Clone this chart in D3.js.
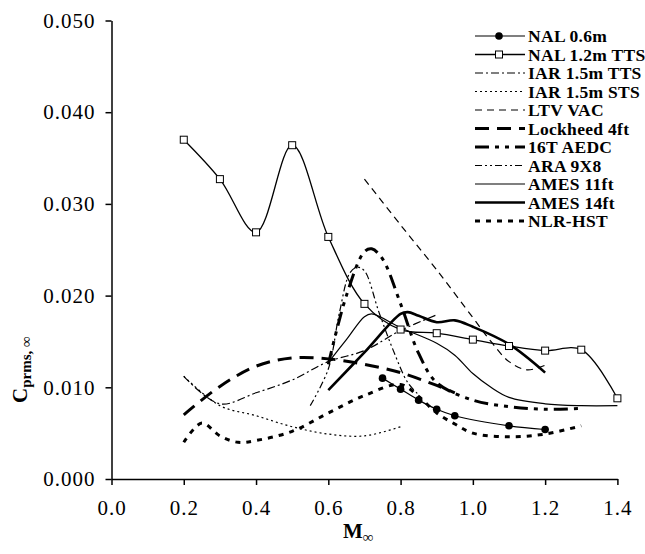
<!DOCTYPE html>
<html>
<head>
<meta charset="utf-8">
<style>
  body { margin: 0; background: #fff; }
  text { font-family: "Liberation Serif", "Times New Roman", serif; }
</style>
</head>
<body>
<script src="https://cdn.jsdelivr.net/npm/d3@7"></script>
<script>
// tick labels
var xTicks = [0.0, 0.2, 0.4, 0.6, 0.8, 1.0, 1.2, 1.4];
var yTicks = [0.000, 0.010, 0.020, 0.030, 0.040, 0.050];

// series values (Mach, Cprms)
var nal06M  = [0.75, 0.80, 0.85, 0.90, 0.95, 1.10, 1.20];
var nal06Cp = [0.0110, 0.0098, 0.0086, 0.0076, 0.0069, 0.0058, 0.0054];

var nal12M  = [0.2, 0.3, 0.4, 0.5, 0.6, 0.7, 0.8, 0.9, 1.0, 1.1, 1.2, 1.3, 1.4];
var nal12Cp = [0.0370, 0.0327, 0.0269, 0.0364, 0.0264, 0.0191, 0.0163, 0.0159, 0.0152, 0.0145, 0.0140, 0.0141, 0.0088];

var iarTtsM  = [0.2, 0.3, 0.4, 0.5, 0.6, 0.7, 0.8, 0.9];
var iarTtsCp = [0.0112, 0.0082, 0.0094, 0.0108, 0.0128, 0.0140, 0.0162, 0.0179];

var iarStsM  = [0.2, 0.3, 0.4, 0.5, 0.6, 0.7, 0.8];
var iarStsCp = [0.0112, 0.0080, 0.0069, 0.0057, 0.0049, 0.0047, 0.0057];

var ltvM  = [0.7, 0.8, 0.9, 1.0, 1.05, 1.1, 1.15, 1.2];
var ltvCp = [0.0327, 0.0277, 0.0228, 0.0176, 0.0150, 0.0128, 0.0119, 0.0124];

var lockM  = [0.2, 0.3, 0.4, 0.5, 0.6, 0.7, 0.8, 0.9, 0.95];
var lockCp = [0.0070, 0.0101, 0.0123, 0.0132, 0.0131, 0.0125, 0.0116, 0.0102, 0.0094];

var aedcM  = [0.6, 0.65, 0.7, 0.72, 0.75, 0.8, 0.85, 0.9, 1.0, 1.1, 1.2, 1.3];
var aedcCp = [0.0125, 0.0200, 0.0248, 0.0251, 0.0240, 0.0191, 0.0137, 0.0105, 0.0086, 0.0079, 0.0076, 0.0077];

var araM  = [0.55, 0.6, 0.63, 0.66, 0.68, 0.7, 0.74, 0.78, 0.82, 0.85];
var araCp = [0.0080, 0.0120, 0.0180, 0.0225, 0.0231, 0.0227, 0.0182, 0.0140, 0.0105, 0.0092];

var ames11M  = [0.6, 0.65, 0.7, 0.72, 0.8, 0.9, 0.95, 1.0, 1.05, 1.1, 1.2, 1.3, 1.4];
var ames11Cp = [0.0127, 0.0152, 0.0177, 0.0180, 0.0165, 0.0148, 0.0135, 0.0115, 0.0100, 0.0089, 0.0082, 0.0080, 0.0080];

var ames14M  = [0.6, 0.7, 0.8, 0.82, 0.85, 0.9, 0.95, 1.0, 1.1, 1.2];
var ames14Cp = [0.0097, 0.0138, 0.0180, 0.0182, 0.0178, 0.0171, 0.0173, 0.0166, 0.0147, 0.0116];

var nlrM  = [0.2, 0.25, 0.3, 0.35, 0.4, 0.5, 0.6, 0.7, 0.8, 0.85, 0.9, 0.95, 1.0, 1.1, 1.2, 1.3];
var nlrCp = [0.0040, 0.0061, 0.0047, 0.0040, 0.0042, 0.0052, 0.0072, 0.0091, 0.0103, 0.0090, 0.0072, 0.0060, 0.0050, 0.0046, 0.0049, 0.0058];

var seriesNames = ["NAL 0.6m", "NAL 1.2m TTS", "IAR 1.5m TTS", "IAR 1.5m STS", "LTV VAC",
                   "Lockheed 4ft", "16T AEDC", "ARA 9X8", "AMES 11ft", "AMES 14ft", "NLR-HST"];

function zip(m, c) { return m.map(function (d, i) { return { x: d, y: c[i] }; }); }

var series = [
  { name: seriesNames[0],  pts: zip(nal06M, nal06Cp),   w: 1.2, dash: null, marker: "circle" },
  { name: seriesNames[1],  pts: zip(nal12M, nal12Cp),   w: 1.3, dash: null, marker: "square" },
  { name: seriesNames[2],  pts: zip(iarTtsM, iarTtsCp), w: 1.2, dash: "8,3,2,3" },
  { name: seriesNames[3],  pts: zip(iarStsM, iarStsCp), w: 1.2, dash: "2,3" },
  { name: seriesNames[4],  pts: zip(ltvM, ltvCp),       w: 1.2, dash: "7,5" },
  { name: seriesNames[5],  pts: zip(lockM, lockCp),     w: 3,   dash: "14,8" },
  { name: seriesNames[6],  pts: zip(aedcM, aedcCp),     w: 3,   dash: "14,6,4,6,4,6" },
  { name: seriesNames[7],  pts: zip(araM, araCp),       w: 1.2, dash: "7,3,2,3,2,3" },
  { name: seriesNames[8],  pts: zip(ames11M, ames11Cp), w: 1.2, dash: null },
  { name: seriesNames[9],  pts: zip(ames14M, ames14Cp), w: 2.6, dash: null },
  { name: seriesNames[10], pts: zip(nlrM, nlrCp),       w: 3,   dash: "5,6" }
];

var width = 645, height = 554;
var plot = { left: 111.5, right: 617.4, top: 20.5, bottom: 479 };

var svg = d3.select("body").append("svg")
  .attr("width", width).attr("height", height);

var x = d3.scaleLinear().domain([0, 1.4]).range([plot.left, plot.right]);
var y = d3.scaleLinear().domain([0, 0.05]).range([plot.bottom, plot.top]);

// axes
var yAxis = svg.append("g")
  .attr("transform", "translate(" + plot.left + ",0)")
  .call(d3.axisLeft(y).tickValues(yTicks).tickFormat(d3.format(".3f")).tickSize(6).tickPadding(10).tickSizeOuter(0));
var xAxis = svg.append("g")
  .attr("transform", "translate(0," + plot.bottom + ")")
  .call(d3.axisBottom(x).tickValues(xTicks).tickFormat(d3.format(".1f")).tickSize(6).tickPadding(15).tickSizeOuter(0));

[xAxis, yAxis].forEach(function (g) {
  g.selectAll(".domain").attr("stroke", "#000").attr("stroke-width", 1.5);
  g.selectAll(".tick line").attr("stroke", "#000").attr("stroke-width", 1.5);
  g.selectAll(".tick text").attr("fill", "#000")
    .style("font-family", "Liberation Serif").style("font-size", "21px")
    .style("letter-spacing", "1px");
});

// axis titles
svg.append("text")
  .attr("x", 343).attr("y", 538)
  .style("font-size", "21px").style("font-weight", "bold")
  .text("M")
  .append("tspan").attr("dy", 4).style("font-size", "15px").text("\u221e");

var yTitle = svg.append("text")
  .attr("transform", "translate(27,403) rotate(-90)")
  .style("font-size", "21px").style("font-weight", "bold");
yTitle.append("tspan").text("C");
yTitle.append("tspan").attr("dy", 4).style("font-size", "15px").text("prms, \u221e");

// lines
var line = d3.line()
  .x(function (d) { return x(d.x); })
  .y(function (d) { return y(d.y); })
  .curve(d3.curveCatmullRom.alpha(0.5));

var lines = svg.append("g");
series.forEach(function (s) {
  lines.append("path")
    .datum(s.pts)
    .attr("d", line)
    .attr("fill", "none")
    .attr("stroke", "#000")
    .attr("stroke-width", s.w)
    .attr("stroke-dasharray", s.dash);
});

// markers
function drawMarker(g, kind, cx, cy) {
  if (kind === "circle") {
    g.append("circle").attr("cx", cx).attr("cy", cy).attr("r", 3.8).attr("fill", "#000");
  } else if (kind === "square") {
    g.append("rect").attr("x", cx - 3.5).attr("y", cy - 3.5).attr("width", 7).attr("height", 7)
      .attr("fill", "#fff").attr("stroke", "#000").attr("stroke-width", 1);
  }
}
series.forEach(function (s) {
  if (!s.marker) return;
  s.pts.forEach(function (p) { drawMarker(lines, s.marker, x(p.x), y(p.y)); });
});

// legend
var legend = svg.append("g");
var legY0 = 36, legStep = 18.5;
series.forEach(function (s, i) {
  var ly = legY0 + i * legStep;
  legend.append("line")
    .attr("x1", 475).attr("x2", 525).attr("y1", ly).attr("y2", ly)
    .attr("stroke", "#000").attr("stroke-width", s.w)
    .attr("stroke-dasharray", s.dash);
  if (s.marker) drawMarker(legend, s.marker, 499, ly);
  legend.append("text")
    .attr("x", 528).attr("y", ly).attr("dy", "0.35em")
    .style("font-size", "17.5px").style("font-weight", "bold")
    .style("letter-spacing", "0.3px")
    .text(s.name);
});
</script>
</body>
</html>
